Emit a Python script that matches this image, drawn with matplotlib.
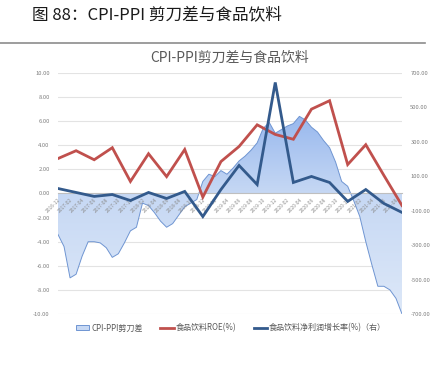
import numpy as np
import pandas as pd
import matplotlib
matplotlib.use("Agg")
import matplotlib.pyplot as plt
from matplotlib.colors import LinearSegmentedColormap
from matplotlib.patches import Patch
from matplotlib.lines import Line2D

plt.rcParams['font.family'] = ['Noto Sans CJK SC', 'DejaVu Sans']

# monthly categories 2016-12 .. 2021-09
months = list(pd.period_range('2016-12', '2021-09', freq='M').strftime('%Y-%m'))

# CPI-PPI scissors gap (left axis)
cpi_ppi = [-3.4, -4.4, -7.0, -6.7, -5.2, -4.0, -4.0, -4.1, -4.5, -5.3, -5.0, -4.1,
           -3.1, -2.8, -0.8, -1.0, -1.6, -2.3, -2.8, -2.5, -1.8, -1.1, -0.8, -0.5,
           1.0, 1.6, 1.4, 1.9, 1.6, 2.1, 2.7, 3.1, 3.6, 4.2, 5.4, 5.9,
           5.0, 5.3, 5.6, 5.8, 6.4, 6.1, 5.5, 5.1, 4.4, 3.8, 2.6, 1.0,
           0.6, -0.6, -1.9, -4.0, -5.9, -7.7, -7.7, -8.0, -8.7, -10.0]

# quarterly series (every 3rd month)
quarters = months[::3]
roe = [2.9, 3.55, 2.8, 3.8, 1.0, 3.3, 1.4, 3.65, -0.3, 2.65,
       3.9, 5.7, 4.9, 4.5, 7.0, 7.7, 2.4, 4.05, 1.5, -1.0]
profit_growth = [29, 6, -17, -6, -41, 6, -29, 12, -134, 23,
                 163, 52, 645, 64, 99, 64, -46, 23, -58, -110]

left_ticks = np.arange(-10, 11, 2)
right_ticks = np.arange(-700, 701, 200)

x_m = np.arange(len(months))
x_q = np.array([months.index(q) for q in quarters])

fig = plt.figure(figsize=(4.44, 3.72), dpi=100)
ax = fig.add_axes([0.1306, 0.1559, 0.7748, 0.6479])
ax2 = ax.twinx()

# header
fig.text(0.072, 0.958, "图 88：CPI-PPI 剪刀差与食品饮料", fontsize=12,
         color="#1a1a1a", ha="left", va="center", weight="medium")
fig.add_artist(Line2D([0, 0.957], [0.884, 0.884], color="#8c8c8c", lw=1.2))
fig.text(0.518, 0.845, "CPI-PPI剪刀差与食品饮料", fontsize=10,
         color="#595959", ha="center", va="center")

ax.set_xlim(0, len(months) - 1)
ax.set_ylim(-10, 10)
# gridlines drawn by hand so tick labels can stay above the area
for v in left_ticks:
    if v != 0:
        ax.axhline(v, color="#e3e3e3", lw=0.8, zorder=0)

# area with vertical gradient
poly = ax.fill_between(x_m, cpi_ppi, 0, color="none", lw=0)
cmap = LinearSegmentedColormap.from_list("g", ["#dde8f8", "#c6d8f4", "#7ea6ea"])
grad = np.linspace(0, 1, 256).reshape(-1, 1)
img = ax.imshow(grad, extent=[0, len(months) - 1, 10, -10], aspect="auto",
                cmap=cmap, origin="upper", zorder=1)
img.set_clip_path(poly.get_paths()[0], transform=ax.transData)
ax.plot(x_m, cpi_ppi, color="#6f95d2", lw=0.7, zorder=2)

ax.plot(x_q, roe, color="#c0504d", lw=2, zorder=3, solid_joinstyle="miter")

ax2.set_ylim(-700, 700)
ax2.plot(x_q, profit_growth, color="#335a8c", lw=2, zorder=4, solid_joinstyle="miter")

# axes styling
ax.set_yticks(left_ticks)
ax.set_yticklabels([f"{v:.2f}" for v in left_ticks])
ax2.set_yticks(right_ticks)
ax2.set_yticklabels([f"{v:.2f}" for v in right_ticks])
ax.set_axisbelow(False)
for a in (ax, ax2):
    for s in ("top", "right", "left"):
        a.spines[s].set_visible(False)
    a.tick_params(axis="y", length=0, labelsize=4.2, labelcolor="#7f7f7f", pad=6)
ax2.spines["bottom"].set_visible(False)
ax.spines["bottom"].set_position(("data", 0))
ax.spines["bottom"].set_color("#bfbfbf")
ax.spines["bottom"].set_linewidth(0.8)

ax.set_xticks(x_m[:-1:2])
ax.set_xticklabels(months[:-1:2], rotation=45, ha="right", va="top",
                   rotation_mode="anchor", fontsize=3.5, color="#8c8c8c")
ax.tick_params(axis="x", length=0, pad=2.5)

# legend
handles = [Patch(facecolor="#c6d8f4", edgecolor="#6f95d2", lw=0.7),
           Line2D([], [], color="#c0504d", lw=2),
           Line2D([], [], color="#335a8c", lw=2)]
labels = ["CPI-PPI剪刀差", "食品饮料ROE(%)", "食品饮料净利润增长率(%)（右）"]
fig.legend(handles, labels, loc="center", bbox_to_anchor=(0.52, 0.118), ncol=3,
           frameon=False, fontsize=5.8, labelcolor="#595959", handlelength=1.7,
           handletextpad=0.2, columnspacing=2.2, handleheight=0.6)

fig.savefig("out.png", dpi=100)
